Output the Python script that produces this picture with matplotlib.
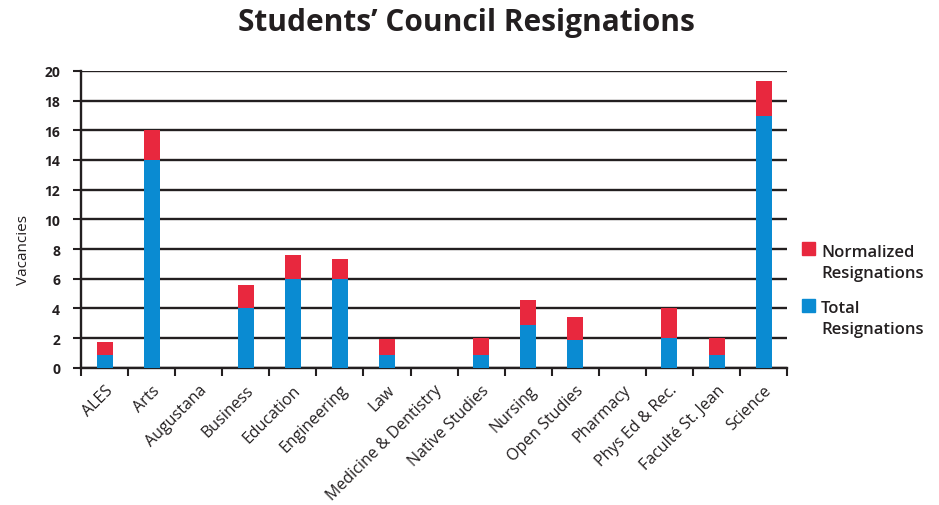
import matplotlib.pyplot as plt
from matplotlib.patches import Rectangle
from matplotlib.ticker import FixedLocator

plt.rcParams['font.family'] = ['Open Sans', 'DejaVu Sans']

faculties = ["ALES", "Arts", "Augustana", "Business", "Education", "Engineering", "Law",
             "Medicine & Dentistry", "Native Studies", "Nursing", "Open Studies", "Pharmacy",
             "Phys Ed & Rec.", "Faculté St. Jean", "Science"]
total = [0.9, 14, 0, 4, 6, 6, 0.9, 0, 0.9, 2.9, 1.9, 0, 2, 0.9, 16.95]
normalized = [0.85, 2, 0, 1.6, 1.6, 1.35, 1.05, 0, 1.1, 1.7, 1.55, 0, 2, 1.1, 2.35]

blue = "#0a8bd2"
red = "#e8283e"
ink = "#231f20"

fig = plt.figure(figsize=(9.39, 5.06), dpi=100)
ax = fig.add_axes([0.0863, 0.271, 0.752, 0.587])

x = list(range(len(faculties)))
ax.bar(x, total, width=0.34, color=blue, zorder=3)
ax.bar(x, normalized, width=0.34, bottom=total, color=red, zorder=3)

ax.set_xlim(-0.5, len(faculties) - 0.5)
ax.set_ylim(0, 20)
ax.set_yticks(range(0, 21, 2))
ax.tick_params(axis='y', length=6, width=1.5, color=ink, labelsize=10, pad=9, labelcolor=ink)
for t in ax.get_yticklabels():
    t.set_fontweight('bold')
ax.yaxis.grid(True, color=ink, linewidth=1.7, zorder=1)

ax.set_xticks(x)
ax.set_xticklabels(faculties, rotation=45, ha='right', rotation_mode='anchor',
                   fontsize=11.5, color=ink)
ax.tick_params(axis='x', which='major', length=0, pad=10)
ax.xaxis.set_minor_locator(FixedLocator([i - 0.5 for i in range(len(faculties) + 1)]))
ax.tick_params(axis='x', which='minor', length=6, width=1.5, color=ink)

for s in ['top', 'right']:
    ax.spines[s].set_visible(False)
for s in ['left', 'bottom']:
    ax.spines[s].set_linewidth(1.7)
    ax.spines[s].set_color(ink)

ax.set_ylabel("Vacancies", fontsize=11, color=ink)
ax.yaxis.set_label_coords(-0.071, 0.40)

fig.text(0.497, 0.955, "Students’ Council Resignations", ha='center', va='center',
         fontsize=21.5, fontweight='bold', color=ink)

# legend drawn by hand so the squares sit beside the first line of each label
W, H = 939, 506
legend_items = [(red, "Normalized\nResignations", 243, 257),
                (blue, "Total\nResignations", 300, 313)]
for color, label, top, base in legend_items:
    fig.patches.append(Rectangle((802 / W, 1 - (top + 13) / H), 13 / W, 13 / H,
                                 transform=fig.transFigure, color=color))
    fig.text(821 / W, 1 - base / H, label.split("\n")[0], ha='left', va='baseline',
             fontsize=12, fontweight='semibold', color=ink)
    fig.text(821 / W, 1 - (base + 21) / H, label.split("\n")[1], ha='left', va='baseline',
             fontsize=12, fontweight='semibold', color=ink)

fig.savefig("out.png", dpi=100)
